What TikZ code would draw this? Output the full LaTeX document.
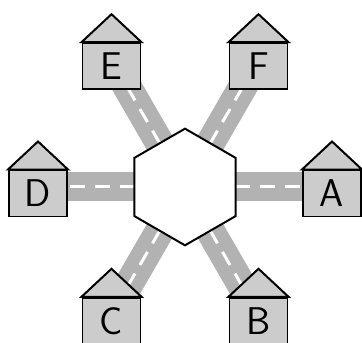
\documentclass[tikz,border=0pt]{standalone}
\usetikzlibrary{shapes.geometric,backgrounds}
\tikzset{
  house/.style={draw, line width=1.7pt, fill=black!20, minimum width=1.74cm, minimum height=1.38cm, inner sep=0pt, font=\sffamily\fontsize{33}{36}\selectfont},
  roof/.style={draw, line width=1.7pt, fill=black!20},
  road/.style={line width=0.87cm, black!30},
  lane/.style={line width=0.09cm, white, dash pattern=on 0.45cm off 0.3cm},
}
\begin{document}
\begin{tikzpicture}[x=0.03cm, y=0.03cm]
    \useasboundingbox (-185,-156) rectangle (177,187);
    % Draw the hub
    \node[draw, line width=1.7pt, fill=white, regular polygon, regular polygon sides=6, shape border rotate=30, minimum size=3.5cm, inner sep=0pt] (hub) at (0,0) {};
    % Draw the houses
    \node[house] (A) at (147,-6.5) {A};
    \draw[roof] (A.north west) -- ([yshift=0.84cm]A.north) -- (A.north east) -- cycle;
    \node[house] (B) at (73.5,-133.8) {B};
    \draw[roof] (B.north west) -- ([yshift=0.84cm]B.north) -- (B.north east) -- cycle;
    \node[house] (C) at (-73.5,-133.8) {C};
    \draw[roof] (C.north west) -- ([yshift=0.84cm]C.north) -- (C.north east) -- cycle;
    \node[house] (D) at (-147,-6.5) {D};
    \draw[roof] (D.north west) -- ([yshift=0.84cm]D.north) -- (D.north east) -- cycle;
    \node[house] (E) at (-73.5,120.8) {E};
    \draw[roof] (E.north west) -- ([yshift=0.84cm]E.north) -- (E.north east) -- cycle;
    \node[house] (F) at (73.5,120.8) {F};
    \draw[roof] (F.north west) -- ([yshift=0.84cm]F.north) -- (F.north east) -- cycle;
    % Road ends under the houses
    \coordinate (a) at (0:147);
    \coordinate (b) at (300:147);
    \coordinate (c) at (240:147);
    \coordinate (d) at (180:147);
    \coordinate (e) at (120:147);
    \coordinate (f) at (60:147);
    % Draw the roads
    \begin{scope}[on background layer]
      \draw[road] (hub.center) -- (a);
      \draw[lane] (hub.center) -- (a);
      \draw[road] (hub.center) -- (b);
      \draw[lane] (hub.center) -- (b);
      \draw[road] (hub.center) -- (c);
      \draw[lane] (hub.center) -- (c);
      \draw[road] (hub.center) -- (d);
      \draw[lane] (hub.center) -- (d);
      \draw[road] (hub.center) -- (e);
      \draw[lane] (hub.center) -- (e);
      \draw[road] (hub.center) -- (f);
      \draw[lane] (hub.center) -- (f);
    \end{scope}
\end{tikzpicture}
\end{document}
